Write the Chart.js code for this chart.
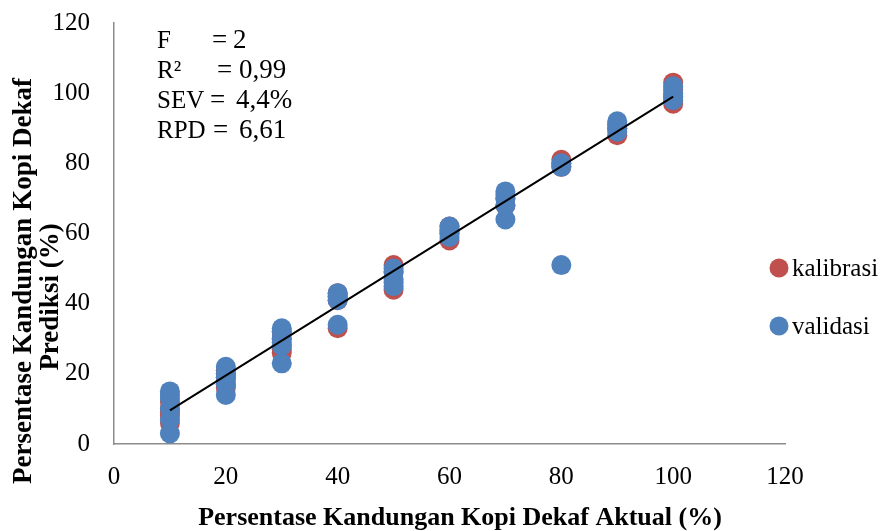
<!DOCTYPE html>
<html>
<head>
<meta charset="utf-8">
<script src="https://cdn.jsdelivr.net/npm/chart.js@4"></script>
<style>
  html, body { margin: 0; padding: 0; background: #fff; }
  #wrap { width: 886px; height: 531px; }
</style>
</head>
<body>
<div id="wrap"><canvas id="grafik" width="886" height="531"></canvas></div>
<script>
// data
const kalibrasiX = [10, 10, 10, 10, 10, 20, 20, 20, 20, 20, 30, 30, 30, 30, 30, 40, 40, 40, 40,
    50, 50, 50, 50, 60, 60, 60, 60, 70, 70, 70, 80, 80, 80, 90, 90, 90, 100, 100, 100, 100];
const kalibrasiY = [6, 8, 9, 10, 12, 16, 17, 19, 20, 21, 26, 27, 28, 30, 32, 33, 41, 42, 43,
    44, 46, 49, 51, 58, 60, 61, 62, 68, 70, 71, 79, 80, 81, 88, 90, 91, 97, 99, 101, 103];
const validasiX = [10, 10, 10, 10, 10, 10, 20, 20, 20, 20, 20, 20, 30, 30, 30, 30, 30, 30, 40, 40, 40, 40,
    50, 50, 50, 50, 60, 60, 60, 60, 70, 70, 70, 70, 80, 80, 80, 90, 90, 90, 90, 100, 100, 100, 100];
const validasiY = [3, 7, 10, 13, 14, 15, 14, 17, 18, 19, 20, 22, 23, 28, 29, 30, 32, 33, 34, 41, 42, 43,
    45, 47, 49, 50, 59, 60, 61, 62, 64, 68, 70, 72, 51, 79, 80, 89, 90, 91, 92, 98, 99, 100, 102];
const garisX = [10, 100];
const garisY = [9.6, 99];
const tickX = [0, 20, 40, 60, 80, 100, 120];
const tickY = [0, 20, 40, 60, 80, 100, 120];
const labelSeri = ['kalibrasi', 'validasi'];
const statNama = ['F', 'R²', 'SEV', 'RPD'];
const statNilai = ['2', '0,99', '4,4%', '6,61'];
const judulX = 'Persentase Kandungan Kopi Dekaf Aktual (%)';
const judulY = ['Persentase Kandungan Kopi Dekaf', 'Prediksi (%)'];

const merah = '#C0504D';
const biru = '#4F81BD';
const fontSerif = "'Liberation Serif', 'Times New Roman', serif";

const toPoints = (xs, ys) => xs.map((x, i) => ({ x: x, y: ys[i] }));

// teks statistik, legenda dan judul sumbu
const teksPlugin = {
    id: 'teks',
    afterDraw(chart) {
        const c = chart.ctx;
        c.save();
        c.fillStyle = '#000';
        c.textBaseline = 'alphabetic';
        c.textAlign = 'left';
        const eqX = [212, 217, 210, 213];
        const valX = [233, 239, 236, 239];
        statNama.forEach((n, i) => {
            const y = 48 + i * 30;
            c.font = '25px ' + fontSerif;
            c.fillText(n, 157, y);
            c.font = '27px ' + fontSerif;
            c.fillText('=', eqX[i], y);
            c.fillText(statNilai[i], valX[i], y);
        });

        // legenda
        c.font = '25px ' + fontSerif;
        const warna = [merah, biru];
        labelSeri.forEach((l, i) => {
            const cy = 268 + i * 58;
            c.beginPath();
            c.arc(779, cy, 9.5, 0, Math.PI * 2);
            c.fillStyle = warna[i];
            c.fill();
            c.fillStyle = '#000';
            c.textBaseline = 'middle';
            c.fillText(l, 792, cy + 1);
        });

        // judul sumbu
        c.font = 'bold 26px ' + fontSerif;
        c.textAlign = 'center';
        c.textBaseline = 'middle';
        c.fillText(judulX, 460, 518);
        c.rotate(-Math.PI / 2);
        c.font = 'bold 27px ' + fontSerif;
        c.fillText(judulY[0], -281, 24);
        c.fillText(judulY[1], -297, 51);
        c.restore();
    }
};

const sumbu = (ticks) => ({
    type: 'linear',
    min: 0,
    max: 120,
    afterBuildTicks: (s) => { s.ticks = ticks.map(v => ({ value: v })); },
    grid: { display: false, drawTicks: false },
    border: { display: true, color: '#8c8c8c', width: 1.5 },
    ticks: {
        color: '#000',
        font: { family: fontSerif, size: 25 }
    }
});

const nolPadding = (s) => {
    s.paddingTop = 0; s.paddingBottom = 0; s.paddingLeft = 0; s.paddingRight = 0;
};

const skalaX = sumbu(tickX);
skalaX.ticks.padding = 18;
skalaX.afterFit = (s) => { s.height = 87; nolPadding(s); };
const skalaY = sumbu(tickY);
skalaY.ticks.padding = 24;
skalaY.afterFit = (s) => { s.width = 114; nolPadding(s); };

const grafik = new Chart(document.getElementById('grafik').getContext('2d'), {
    type: 'scatter',
    data: {
        datasets: [
            {
                label: 'garis',
                data: toPoints(garisX, garisY),
                showLine: true,
                borderColor: '#000',
                borderWidth: 2,
                pointRadius: 0,
                order: 0
            },
            {
                label: labelSeri[1],
                data: toPoints(validasiX, validasiY),
                backgroundColor: biru,
                borderColor: biru,
                borderWidth: 0,
                pointRadius: 10,
                order: 1
            },
            {
                label: labelSeri[0],
                data: toPoints(kalibrasiX, kalibrasiY),
                backgroundColor: merah,
                borderColor: merah,
                borderWidth: 0,
                pointRadius: 10,
                order: 2
            }
        ]
    },
    options: {
        responsive: false,
        animation: false,
        layout: { padding: { left: 0, top: 23, right: 101, bottom: 0 } },
        plugins: {
            legend: { display: false },
            tooltip: { enabled: false }
        },
        scales: { x: skalaX, y: skalaY }
    },
    plugins: [teksPlugin]
});
</script>
</body>
</html>
